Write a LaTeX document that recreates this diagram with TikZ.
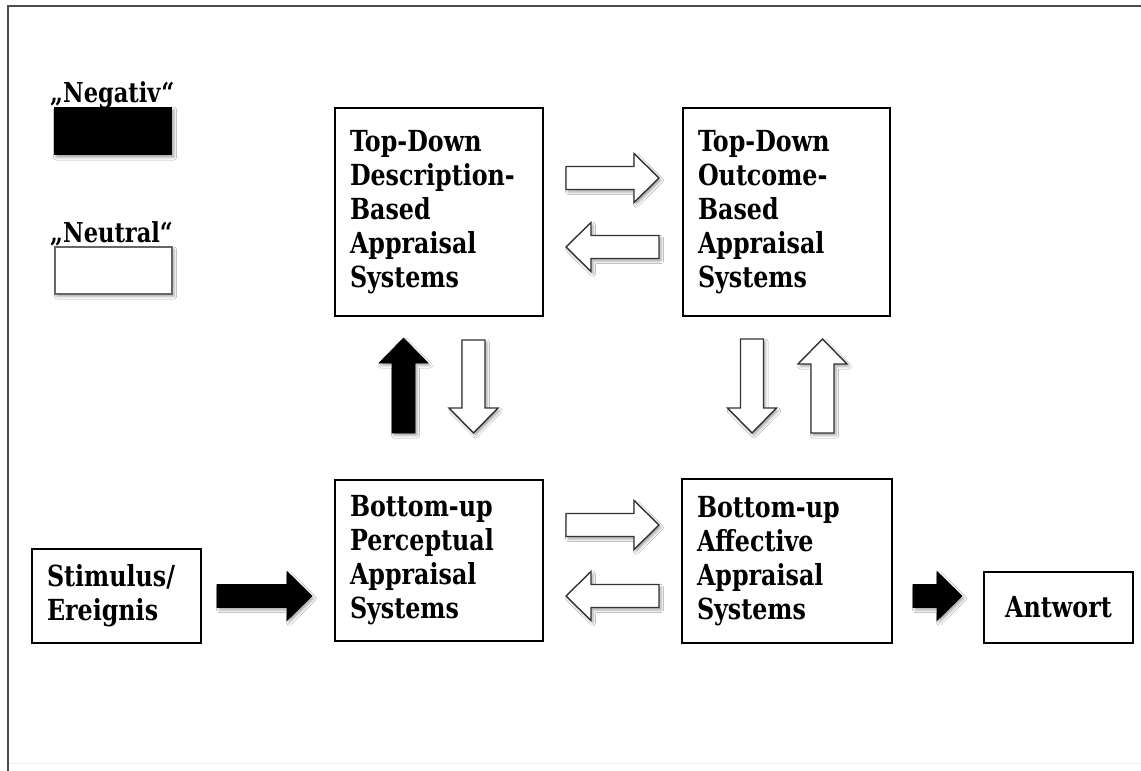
\documentclass[tikz,border=0pt]{standalone}
\usepackage{fontspec}
\setmainfont{DejaVu Serif}[FakeStretch=0.82]
\usetikzlibrary{shadows.blur}

% block arrow, horizontal: style, tail x, tip x, centre y
\newcommand{\blockH}[4]{%
  \draw[#1] (#2,{#4-11.5}) -- ({#3-25*sign(#3-#2)},{#4-11.5})
    -- ({#3-25*sign(#3-#2)},{#4-24.5}) -- (#3,#4)
    -- ({#3-25*sign(#3-#2)},{#4+24.5}) -- ({#3-25*sign(#3-#2)},{#4+11.5})
    -- (#2,{#4+11.5}) -- cycle;}
% block arrow, vertical: style, centre x, tail y, tip y
\newcommand{\blockV}[4]{%
  \draw[#1] ({#2-11.5},#3) -- ({#2-11.5},{#4-25*sign(#4-#3)})
    -- ({#2-24.5},{#4-25*sign(#4-#3)}) -- (#2,#4)
    -- ({#2+24.5},{#4-25*sign(#4-#3)}) -- ({#2+11.5},{#4-25*sign(#4-#3)})
    -- ({#2+11.5},#3) -- cycle;}

\begin{document}
\begin{tikzpicture}[x=1pt,y=-1pt,
  box/.style={draw=black, line width=1.6pt, fill=white, inner xsep=15pt,
    inner ysep=0pt, align=left, font=\bfseries\fontsize{29}{34}\selectfont},
  shade/.style={blur shadow={shadow xshift=2pt, shadow yshift=-2.5pt,
    shadow blur radius=2.5pt, shadow opacity=35}},
  hollow/.style={draw=black!80, line width=1.4pt, fill=white, shade},
  solid/.style={draw=black, line width=0.6pt, fill=black, shade},
  legendtext/.style={font=\bfseries\fontsize{27.5}{32}\selectfont,
    anchor=base west, inner sep=0pt}
]

\useasboundingbox (0,0) rectangle (1141,771);
\fill[white] (0,0) rectangle (1141,771);

% outer frame
\draw[line width=2.5pt, black!70] (8,800) -- (8,6) -- (1160,6);
\draw[line width=1pt, black!6] (9,763) -- (1141,763);

% legend
\node[legendtext] (negl) at (50,102) {„Negativ“};
\node[fill=black, minimum width=118pt, minimum height=48pt, inner sep=0pt, shade] (neg) at (113,131) {};
\node[legendtext] (neul) at (50,242) {„Neutral“};
\node[draw=black!60, line width=1.5pt, fill=white, minimum width=117pt, minimum height=47pt, inner sep=0pt, shade] (neu) at (113.5,270.5) {};

% appraisal systems
\node[box, text width=178pt, minimum height=208pt] (tdd) at (439,212)
  {Top-Down\\Description-\\Based\\Appraisal\\Systems};
\node[box, text width=177pt, minimum height=208pt] (tdo) at (786.5,212)
  {Top-Down\\Outcome-\\Based\\Appraisal\\Systems};
\node[box, text width=178pt, minimum height=161pt] (bup) at (439,560.5)
  {Bottom-up\\Perceptual\\Appraisal\\Systems};
\node[box, text width=180pt, minimum height=164pt] (bua) at (787,561)
  {Bottom-up\\Affective\\Appraisal\\Systems};

% input and output
\node[box, text width=139pt, minimum height=94pt] (stim) at (116.5,596)
  {Stimulus/\\Ereignis};
\node[box, align=center, minimum width=149pt, minimum height=71pt] (resp) at (1058.5,607.5)
  {Antwort};

% arrows between the top systems
\blockH{hollow}{566}{659}{178}
\blockH{hollow}{659}{566}{247}
% arrows between the bottom systems
\blockH{hollow}{566}{659}{525}
\blockH{hollow}{659}{566}{596}
% vertical arrows
\blockV{solid}{403.5}{433}{338}
\blockV{hollow}{473.5}{340}{433}
\blockV{hollow}{752}{339}{433}
\blockV{hollow}{822.5}{433}{339}
% input and output arrows
\blockH{solid}{217}{312}{596}
\blockH{solid}{913}{962}{596}

\end{tikzpicture}
\end{document}
